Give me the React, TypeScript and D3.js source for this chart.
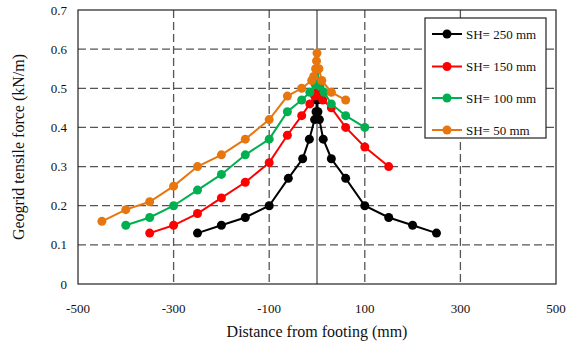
import React from "react";
import * as d3 from "d3";

const seriesNames = ["SH= 250 mm", "SH= 150 mm", "SH= 100 mm", "SH= 50 mm"];
const seriesColors = ["#000000", "#ff0000", "#00b050", "#e8760f"];

const sh250X = [-250, -200, -150, -100, -60, -30, -16, -5, -2, 0, 2, 5, 13, 30, 60, 100, 150, 200, 250];
const sh250Y = [0.13, 0.15, 0.17, 0.2, 0.27, 0.32, 0.37, 0.42, 0.44, 0.47, 0.44, 0.42, 0.37, 0.32, 0.27, 0.2, 0.17, 0.15, 0.13];

const sh150X = [-350, -300, -250, -200, -150, -100, -62, -32, -15, -5, 0, 5, 12, 30, 60, 100, 150];
const sh150Y = [0.13, 0.15, 0.18, 0.22, 0.26, 0.31, 0.38, 0.43, 0.46, 0.48, 0.49, 0.48, 0.47, 0.45, 0.4, 0.35, 0.3];

const sh100X = [-400, -350, -300, -250, -200, -150, -100, -62, -32, -15, -4, 0, 6, 15, 30, 60, 100];
const sh100Y = [0.15, 0.17, 0.2, 0.24, 0.28, 0.33, 0.37, 0.44, 0.47, 0.49, 0.51, 0.55, 0.505, 0.49, 0.46, 0.43, 0.4];

const sh50X = [-450, -400, -350, -300, -250, -200, -150, -100, -62, -32, -11, -7, -3, -1, 0, 4, 10, 30, 60];
const sh50Y = [0.16, 0.19, 0.21, 0.25, 0.3, 0.33, 0.37, 0.42, 0.48, 0.5, 0.52, 0.53, 0.55, 0.57, 0.59, 0.55, 0.52, 0.49, 0.47];

const seriesX = [sh250X, sh150X, sh100X, sh50X];
const seriesY = [sh250Y, sh150Y, sh100Y, sh50Y];

const xTickLabels = [-500, -300, -100, 100, 300, 500];
const xGrid = [-300, -100, 100, 300];
const yTicks = [0, 0.1, 0.2, 0.3, 0.4, 0.5, 0.6, 0.7];

const W = 575;
const H = 347;
const m = { left: 78, right: 19, top: 10, bottom: 63 };
const FONT = "'Liberation Serif', 'Times New Roman', serif";

export default function App() {
  const x = d3.scaleLinear().domain([-500, 500]).range([m.left, W - m.right]);
  const y = d3.scaleLinear().domain([0, 0.7]).range([H - m.bottom, m.top]);
  const line = d3
    .line<[number, number]>()
    .x((d) => x(d[0]))
    .y((d) => y(d[1]));

  const pw = W - m.right - m.left;
  const ph = H - m.bottom - m.top;

  const legX = 425;
  const legY = 18;
  const legW = 121;
  const legH = 120;
  const legRows = [34, 66.5, 98, 130];

  return (
    <svg
      width={W}
      height={H}
      style={{ position: "absolute", left: 0, top: 0, background: "#fff" }}
      fontFamily={FONT}
    >
      <rect x={0} y={0} width={W} height={H} fill="#fff" />
      {/* grid */}
      {yTicks.slice(1, -1).map((t) => (
        <line
          key={"hy" + t}
          x1={m.left}
          x2={W - m.right}
          y1={y(t)}
          y2={y(t)}
          stroke="#555"
          strokeWidth={1.3}
          strokeDasharray="8,4"
        />
      ))}
      {xGrid.map((t) => (
        <line
          key={"vx" + t}
          x1={x(t)}
          x2={x(t)}
          y1={m.top}
          y2={H - m.bottom}
          stroke="#555"
          strokeWidth={1.3}
          strokeDasharray="8,4"
        />
      ))}
      <line x1={x(0)} x2={x(0)} y1={m.top} y2={H - m.bottom} stroke="#666" strokeWidth={1.5} />
      {/* frame */}
      <rect x={m.left} y={m.top} width={pw} height={ph} fill="none" stroke="#222" strokeWidth={1.2} />

      {/* series */}
      {seriesX.map((xs, i) => {
        const pts: [number, number][] = xs.map((v, j) => [v, seriesY[i][j]]);
        return (
          <g key={"s" + i}>
            <path d={line(pts) || ""} fill="none" stroke={seriesColors[i]} strokeWidth={2} />
            {pts.map((p, j) => (
              <circle key={j} cx={x(p[0])} cy={y(p[1])} r={4.5} fill={seriesColors[i]} />
            ))}
          </g>
        );
      })}

      {/* y tick labels */}
      {yTicks.map((t) => (
        <text
          key={"yl" + t}
          x={m.left - 11}
          y={y(t)}
          dy="0.35em"
          textAnchor="end"
          fontSize={13}
          fill="#111"
        >
          {t === 0 ? "0" : d3.format(".1f")(t)}
        </text>
      ))}
      {/* x tick labels */}
      {xTickLabels.map((t) => (
        <text
          key={"xl" + t}
          x={x(t)}
          y={H - m.bottom + 29}
          textAnchor="middle"
          fontSize={13}
          fill="#111"
        >
          {t}
        </text>
      ))}
      {/* axis titles */}
      <text x={x(0)} y={H - 10} textAnchor="middle" fontSize={16} fill="#111">
        Distance from footing (mm)
      </text>
      <text
        transform={`translate(24, ${(m.top + H - m.bottom) / 2}) rotate(-90)`}
        textAnchor="middle"
        fontSize={16}
        fill="#111"
      >
        Geogrid tensile force (kN/m)
      </text>

      {/* legend */}
      <rect x={legX} y={legY} width={legW} height={legH} fill="#fff" stroke="#222" strokeWidth={1.2} />
      {seriesNames.map((n, i) => (
        <g key={"lg" + i}>
          <line
            x1={legX + 7}
            x2={legX + 37}
            y1={legRows[i]}
            y2={legRows[i]}
            stroke={seriesColors[i]}
            strokeWidth={2}
          />
          <circle cx={legX + 22} cy={legRows[i]} r={4.5} fill={seriesColors[i]} />
          <text x={legX + 41} y={legRows[i]} dy="0.35em" fontSize={13} fill="#111">
            {n}
          </text>
        </g>
      ))}
    </svg>
  );
}
